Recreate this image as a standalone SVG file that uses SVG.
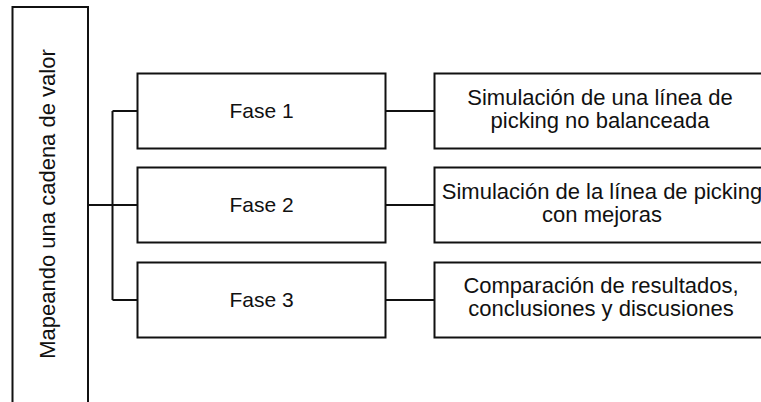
<svg xmlns="http://www.w3.org/2000/svg" width="761" height="402" viewBox="0 0 761 402">
<style>
.box{fill:#fff;stroke:#111;stroke-width:2}
.con{fill:none;stroke:#111;stroke-width:2}
text{font-family:"Liberation Sans",Arial,sans-serif;fill:#111;text-anchor:middle}
.t{font-size:22px}
.f{font-size:21px}
</style>
<rect width="761" height="402" fill="#fff"/>
<g id="connectors">
<path class="con" d="M88 205H137.5M112.5 111V300M112.5 111H137.5M112.5 300H137.5"/>
<path class="con" d="M385.5 111H434.5M385.5 205H434.5M385.5 300H434.5"/>
</g>
<g id="root">
<rect class="box" x="12.5" y="7" width="75.5" height="410"/>
<text class="t" transform="translate(55 204) rotate(-90)">Mapeando una cadena de valor</text>
</g>
<g id="fase1">
<rect class="box" x="137.5" y="73.5" width="248" height="75"/>
<text class="f" x="261.5" y="118">Fase 1</text>
</g>
<g id="fase2">
<rect class="box" x="137.5" y="167.5" width="248" height="75"/>
<text class="f" x="261.5" y="212">Fase 2</text>
</g>
<g id="fase3">
<rect class="box" x="137.5" y="262.5" width="248" height="75"/>
<text class="f" x="261.5" y="307">Fase 3</text>
</g>
<g id="desc1">
<rect class="box" x="434.5" y="73.5" width="340" height="75"/>
<text class="t" x="600" y="105">Simulación de una línea de</text>
<text class="t" x="600" y="128">picking no balanceada</text>
</g>
<g id="desc2">
<rect class="box" x="434.5" y="167.5" width="340" height="75"/>
<text class="t" x="602" y="199">Simulación de la línea de picking</text>
<text class="t" x="602" y="222">con mejoras</text>
</g>
<g id="desc3">
<rect class="box" x="434.5" y="262.5" width="340" height="75"/>
<text class="t" x="601" y="293">Comparación de resultados,</text>
<text class="t" x="601" y="316">conclusiones y discusiones</text>
</g>
</svg>
